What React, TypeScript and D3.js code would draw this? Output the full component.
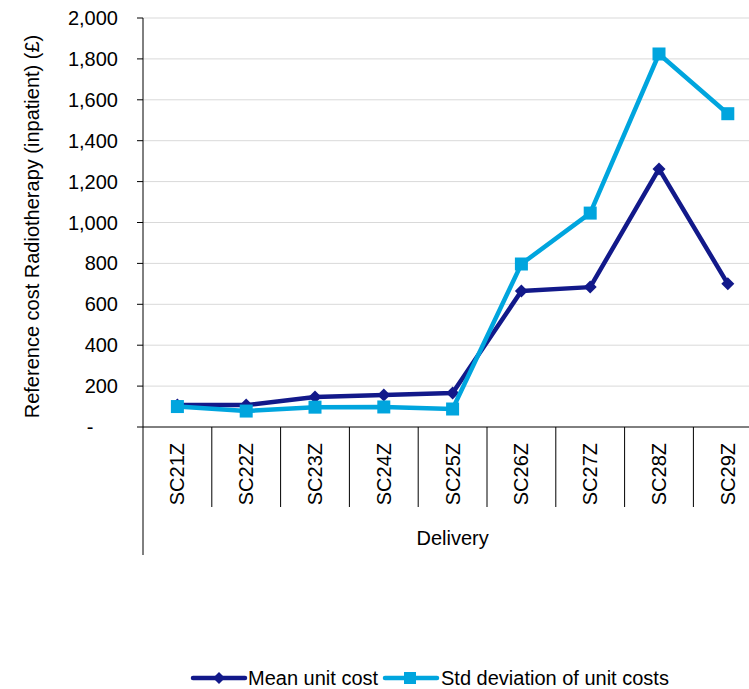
import React from "react";
import * as d3 from "d3";

const categories = ["SC21Z", "SC22Z", "SC23Z", "SC24Z", "SC25Z", "SC26Z", "SC27Z", "SC28Z", "SC29Z"];
const meanUnitCost = [108, 107, 147, 156, 166, 665, 684, 1262, 700];
const stdUnitCost = [100, 78, 97, 98, 88, 797, 1046, 1824, 1532];
const yTicks = [0, 200, 400, 600, 800, 1000, 1200, 1400, 1600, 1800, 2000];

const W = 749;
const H = 689;
const FONT = "'Liberation Sans', Arial, Helvetica, sans-serif";
const FS = 20;
const MEAN_COLOR = "#12198A";
const STD_COLOR = "#00A5DE";

export default function App() {
  const left = 143;
  const catW = 68.8;
  const right = left + catW * categories.length;
  const top = 18;
  const bottom = 427;

  const x = d3.scaleBand<string>().domain(categories).range([left, right]).padding(0);
  const y = d3.scaleLinear().domain([0, 2000]).range([bottom, top]);
  const cx = (c: string) => (x(c) as number) + x.bandwidth() / 2;

  const line = d3
    .line<number>()
    .x((_, i) => cx(categories[i]))
    .y((d) => y(d));

  const fmt = d3.format(",");
  const diamond = (s: number) => `M0,${-s} L${s},0 L0,${s} L${-s},0 Z`;

  return (
    <svg
      width={W}
      height={H}
      style={{ position: "absolute", left: 0, top: 0, background: "#fff" }}
      fontFamily={FONT}
    >
      {/* gridlines */}
      {yTicks.slice(1).map((t) => (
        <line key={t} x1={left} x2={W} y1={y(t)} y2={y(t)} stroke="#D9D9D9" strokeWidth={1} />
      ))}

      {/* y axis */}
      <line x1={left} x2={left} y1={top} y2={555} stroke="#000" strokeWidth={1} />
      {yTicks.map((t) => (
        <g key={t}>
          <line x1={left - 6} x2={left} y1={y(t)} y2={y(t)} stroke="#000" />
          <text
            x={t === 0 ? 90 : 118}
            y={y(t)}
            dy="0.35em"
            textAnchor={t === 0 ? "middle" : "end"}
            fontSize={FS}
            fill="#000"
          >
            {t === 0 ? "-" : fmt(t)}
          </text>
        </g>
      ))}
      <text
        transform={`translate(39,${(top + bottom) / 2 + 4}) rotate(-90)`}
        textAnchor="middle"
        fontSize={FS}
        fill="#000"
      >
        Reference cost Radiotherapy (inpatient) (£)
      </text>

      {/* x axis */}
      <line x1={left} x2={W} y1={bottom} y2={bottom} stroke="#000" strokeWidth={1} />
      {categories.map((c, i) => (
        <g key={c}>
          {i > 0 && (
            <line x1={x(c)} x2={x(c)} y1={bottom} y2={507} stroke="#000" strokeWidth={1} />
          )}
          <text
            transform={`translate(${cx(c) + 7},${443}) rotate(-90)`}
            textAnchor="end"
            fontSize={FS}
            fill="#000"
          >
            {c}
          </text>
        </g>
      ))}
      <text x={(left + right) / 2} y={545} textAnchor="middle" fontSize={FS} fill="#000">
        Delivery
      </text>

      {/* mean series */}
      <path d={line(meanUnitCost) ?? ""} fill="none" stroke={MEAN_COLOR} strokeWidth={4.5} strokeLinejoin="round" />
      {meanUnitCost.map((v, i) => (
        <path key={i} d={diamond(6.5)} transform={`translate(${cx(categories[i])},${y(v)})`} fill={MEAN_COLOR} />
      ))}

      {/* std deviation series */}
      <path d={line(stdUnitCost) ?? ""} fill="none" stroke={STD_COLOR} strokeWidth={4.5} strokeLinejoin="round" />
      {stdUnitCost.map((v, i) => (
        <rect key={i} x={cx(categories[i]) - 6.5} y={y(v) - 6.5} width={13} height={13} fill={STD_COLOR} />
      ))}

      {/* legend */}
      <g>
        <line x1={193} x2={245} y1={678} y2={678} stroke={MEAN_COLOR} strokeWidth={4.5} strokeLinecap="round" />
        <path d={diamond(6)} transform="translate(219,678)" fill={MEAN_COLOR} />
        <text x={248} y={678} dy="0.35em" fontSize={FS} fill="#000">Mean unit cost</text>
        <line x1={385} x2={437} y1={678} y2={678} stroke={STD_COLOR} strokeWidth={4.5} strokeLinecap="round" />
        <rect x={404} y={672} width={12} height={12} fill={STD_COLOR} />
        <text x={441} y={678} dy="0.35em" fontSize={FS} fill="#000">Std deviation of unit costs</text>
      </g>
    </svg>
  );
}
